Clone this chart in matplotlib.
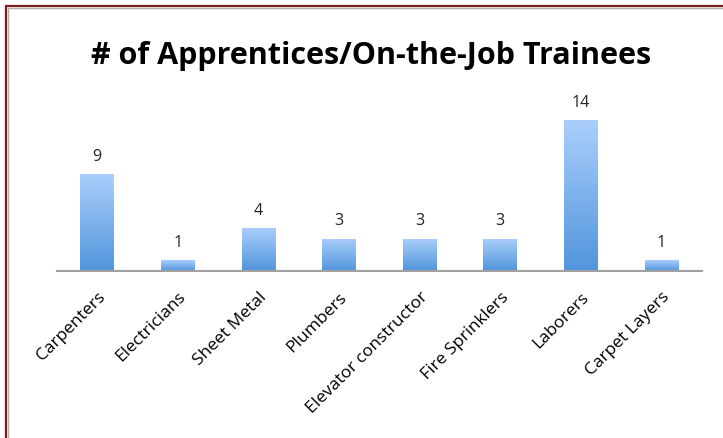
import numpy as np
import matplotlib.pyplot as plt
from matplotlib.colors import LinearSegmentedColormap
from matplotlib.patches import Rectangle

# --- Data ---
trades = ["Carpenters", "Electricians", "Sheet Metal", "Plumbers",
          "Elevator constructor", "Fire Sprinklers", "Laborers", "Carpet Layers"]
counts = [9, 1, 4, 3, 3, 3, 14, 1]

title = "# of Apprentices/On-the-Job Trainees"

# --- Figure ---
fig = plt.figure(figsize=(7.23, 4.38), dpi=100)
ax = fig.add_axes([0.0788, 0.381, 0.892, 0.395])

x = np.arange(len(trades))
bars = ax.bar(x, counts, width=0.42, color="none", edgecolor="none", zorder=2)

# vertical gradient fill, light at top, darker at bottom
cmap = LinearSegmentedColormap.from_list("blu", ["#5195dc", "#abcffc"])
grad = np.linspace(0, 1, 256).reshape(-1, 1)
for b in bars:
    x0, w, h = b.get_x(), b.get_width(), b.get_height()
    im = ax.imshow(grad, cmap=cmap, aspect="auto", origin="lower",
                   extent=[x0, x0 + w, 0, h], zorder=2)
    im.set_clip_path(b)

for xi, v in zip(x, counts):
    ax.text(xi, v + 0.85, str(v), ha="center", va="bottom",
            fontsize=11.5, family="Open Sans", color="#222222")

ax.set_xlim(-0.5, len(trades) - 0.5)
ax.set_ylim(0, 16)
ax.set_yticks([])
ax.set_xticks(x)
ax.set_xticklabels(trades, rotation=45, ha="right", rotation_mode="anchor",
                   fontsize=12.5, family="Open Sans")
ax.tick_params(axis="x", length=0, pad=13)
for s in ["top", "right", "left"]:
    ax.spines[s].set_visible(False)
ax.spines["bottom"].set_color("#a0a0a0")
ax.spines["bottom"].set_linewidth(1.5)
ax.set_facecolor("none")

fig.text(0.513, 0.872, title, ha="center", va="center",
         fontsize=22, fontweight="bold", family="Open Sans")

# frame round the picture (right and bottom sides fall off the image)
W, H = 723, 438
fig.patches.append(Rectangle((5.5 / W, -0.1), 1.2, (H - 5.5) / H + 0.1,
                             transform=fig.transFigure, fill=False,
                             edgecolor="#7a1e1e", linewidth=1.6))
fig.patches.append(Rectangle((7.8 / W, -0.1), 1.2, (H - 7.8) / H + 0.1,
                             transform=fig.transFigure, fill=False,
                             edgecolor="#b0b0b0", linewidth=1.0))

fig.savefig("out.png", dpi=100)
